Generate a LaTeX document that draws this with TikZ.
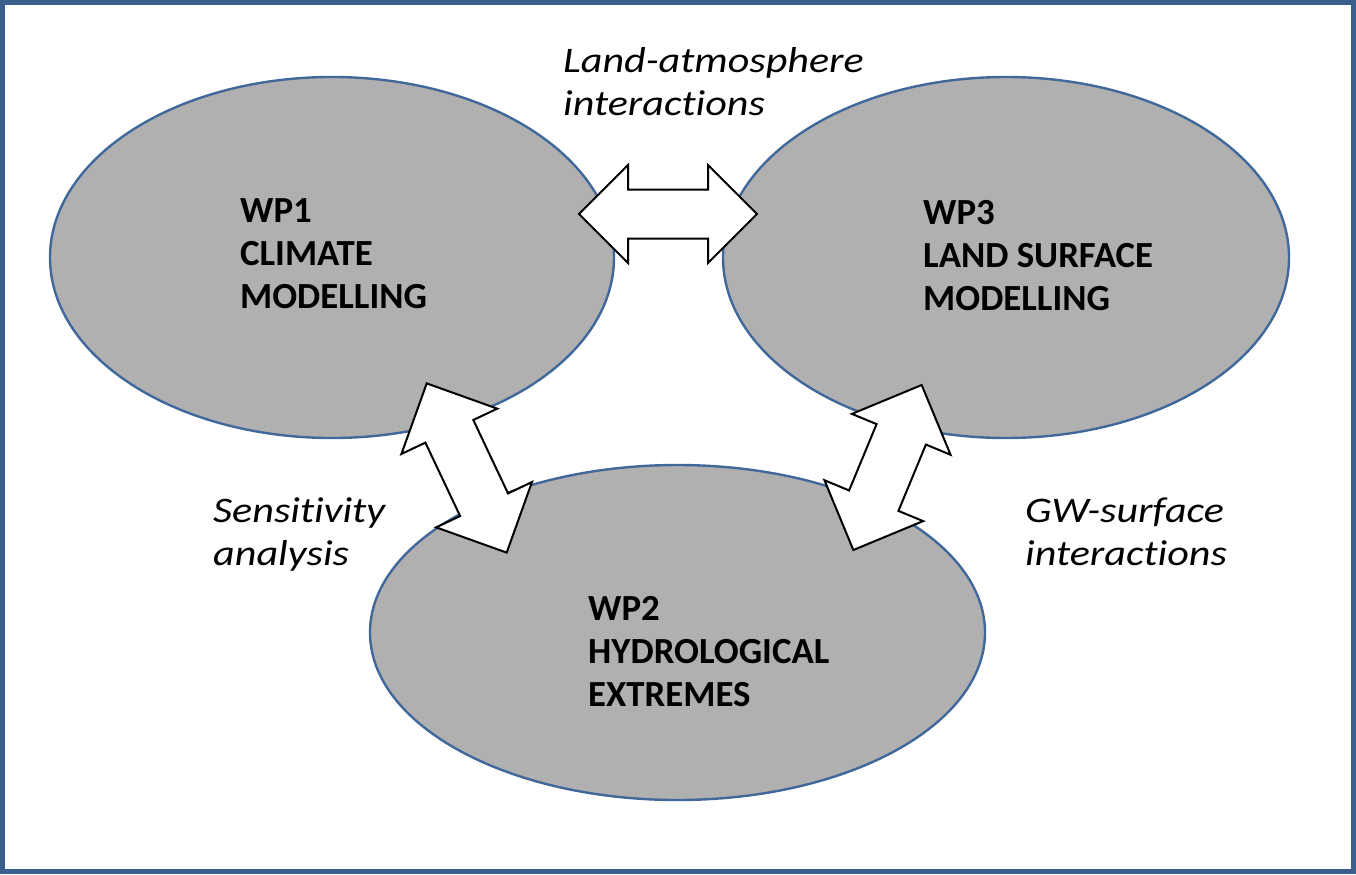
\documentclass[tikz,border=0pt]{standalone}
\usepackage{fontspec}
\setmainfont{Carlito}
\newfontfamily\lblfont[FakeStretch=1.17, Ligatures=NoCommon]{Carlito}
\usetikzlibrary{shapes.geometric}
\definecolor{frameblue}{RGB}{58,95,140}
\definecolor{ellblue}{RGB}{65,104,154}
\definecolor{ellgray}{RGB}{176,176,176}
\tikzset{
  wpell/.style={ellipse, draw=ellblue, line width=2.4bp, fill=ellgray, inner sep=0pt},
  wptext/.style={anchor=base west, align=left, inner sep=0pt, font=\fontsize{36.8bp}{43bp}\selectfont\bfseries},
  lbltext/.style={anchor=base west, align=left, inner sep=0pt, font=\lblfont\fontsize{36bp}{43bp}\selectfont\itshape},
  blockarr/.style={draw=black, fill=white, line width=2bp, line join=miter},
  framebox/.style={draw=frameblue, line width=5bp}
}
\newcommand\blockarrow[5]{%
  \begin{scope}[shift={(#1,#2)}, rotate=#3]
    \draw[blockarr] (-#4,0) -- (-#4+#5,#5) -- (-#4+#5,#5/2) -- (#4-#5,#5/2)
      -- (#4-#5,#5) -- (#4,0) -- (#4-#5,-#5) -- (#4-#5,-#5/2)
      -- (-#4+#5,-#5/2) -- (-#4+#5,-#5) -- cycle;
  \end{scope}}
\begin{document}
\begin{tikzpicture}[x=1bp, y=-1bp]
\useasboundingbox (0,0) rectangle (1356,874);
\fill[white] (0,0) rectangle (1356,874);
\draw[framebox] (2.5,2.5) rectangle (1353.5,871.5);
% ellipses
\node[wpell, minimum width=564bp, minimum height=361bp] (wp1) at (332,257.5) {};
\node[wpell, minimum width=566bp, minimum height=361bp] (wp3) at (1006,257.5) {};
\node[wpell, minimum width=615bp, minimum height=335bp] (wp2) at (677.5,632.5) {};
% block arrows
\blockarrow{668}{214}{0}{89}{49}
\blockarrow{466.7}{468}{-64.7}{93.6}{53}
\blockarrow{887.5}{467.5}{67.5}{89.3}{53.4}
% texts
\node[wptext] (t1) at (240,308) {WP1\\CLIMATE\\MODELLING};
\node[wptext] (t3) at (923,310) {WP3\\LAND SURFACE\\MODELLING};
\node[wptext] (t2) at (588,706) {WP2\\HYDROLOGICAL\\EXTREMES};
\node[lbltext] (l1) at (563,115) {Land-atmosphere\\interactions};
\node[lbltext] (l2) at (213,565) {Sensitivity\\analysis};
\node[lbltext] (l3) at (1025,565) {GW-surface\\interactions};
\end{tikzpicture}
\end{document}
